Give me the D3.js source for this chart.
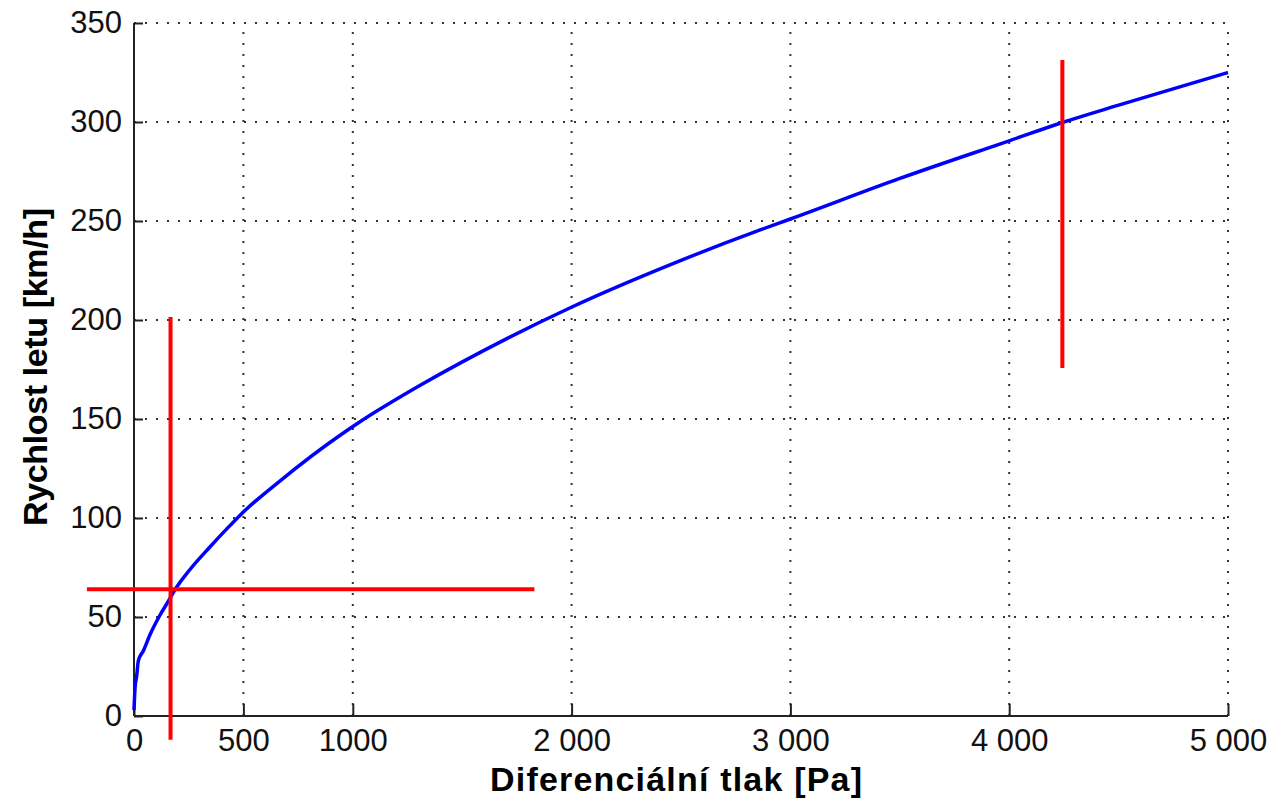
<!DOCTYPE html>
<html>
<head>
<meta charset="utf-8">
<script src="https://cdn.jsdelivr.net/npm/d3@7"></script>
<style>
  html, body { margin: 0; padding: 0; background: #fff; }
  svg { display: block; font-family: "Liberation Sans", Arial, sans-serif; }
  .tick-label { font-size: 31px; fill: #111; }
  .title { font-size: 34px; font-weight: bold; fill: #000; }
</style>
</head>
<body>
<div id="chart"></div>
<script>
const WIDTH = 1272
const HEIGHT = 802
const MARGIN = { top: 23, right: 44, bottom: 86, left: 134 }

// tick values and their printed labels
const X_TICKS = [0, 500, 1000, 2000, 3000, 4000, 5000]
const X_TICK_LABELS = ['0', '500', '1000', '2 000', '3 000', '4 000', '5 000']
const Y_TICKS = [0, 50, 100, 150, 200, 250, 300, 350]

// curve: [pressure Pa, speed km/h]
const PRESSURE = [0, 5, 12, 20, 43, 73, 119, 157, 180, 256, 348, 424, 492, 668, 942, 1033, 1308, 1704, 1994, 2466, 2862, 3000, 3500, 4000, 4250, 4500, 5000]
const SPEED = [3, 14.6, 20, 28, 33, 41, 51, 58, 62.5, 74, 85.5, 94.5, 102.2, 118.8, 141.8, 148.6, 167, 190.6, 206.2, 228.6, 245.5, 251, 271.5, 290.5, 300, 308.5, 325]

// red marker lines: [x1, y1, x2, y2] in data units
const MARKERS = [
  [167, -12, 167, 201.5],
  [-215, 64, 1830, 64],
  [4243, 175.7, 4243, 331.3]
]

const svg = d3.select('#chart')
  .append('svg')
    .attr('width', WIDTH)
    .attr('height', HEIGHT)

const x = d3.scaleLinear()
  .domain([0, 5000])
  .range([MARGIN.left, WIDTH - MARGIN.right])

const y = d3.scaleLinear()
  .domain([0, 350])
  .range([HEIGHT - MARGIN.bottom, MARGIN.top])

// dotted grid
const grid = svg.append('g')
  .attr('stroke', '#333')
  .attr('stroke-width', 2)
  .attr('stroke-dasharray', '2,9')

grid.selectAll('.vgrid')
    .data(X_TICKS.filter((d) => d > 0))
  .enter().append('line')
    .attr('x1', (d) => x(d)).attr('x2', (d) => x(d))
    .attr('y1', y(0)).attr('y2', y(350))

grid.selectAll('.hgrid')
    .data(Y_TICKS.filter((d) => d > 0))
  .enter().append('line')
    .attr('x1', x(0)).attr('x2', x(5000))
    .attr('y1', (d) => y(d)).attr('y2', (d) => y(d))

// axes (inward ticks, custom labels)
const xAxis = d3.axisBottom(x)
  .tickValues(X_TICKS)
  .tickSize(-12)
  .tickPadding(13)
  .tickFormat((d, i) => X_TICK_LABELS[i])

const yAxis = d3.axisLeft(y)
  .tickValues(Y_TICKS)
  .tickSize(-9)
  .tickPadding(12)

svg.append('g')
    .attr('transform', 'translate(0,' + y(0) + ')')
    .call(xAxis)
    .call((g) => g.select('.domain').attr('d', 'M' + x(0) + ',0H' + x(5000)))

svg.append('g')
    .attr('transform', 'translate(' + x(0) + ',0)')
    .call(yAxis)
    .call((g) => g.select('.domain').attr('d', 'M0,' + y(0) + 'V' + y(350)))

svg.selectAll('.domain, .tick line')
  .attr('stroke', '#222')
  .attr('stroke-width', 2)

svg.selectAll('.tick text')
  .attr('class', 'tick-label')
  .attr('font-size', null)
  .attr('font-family', null)

// blue curve
const line = d3.line()
  .curve(d3.curveMonotoneX)
  .x((d) => x(d[0]))
  .y((d) => y(d[1]))

svg.append('path')
  .datum(d3.zip(PRESSURE, SPEED))
  .attr('fill', 'none')
  .attr('stroke', '#0000ff')
  .attr('stroke-width', 3.5)
  .attr('stroke-linejoin', 'round')
  .attr('d', line)

// red markers
svg.append('g')
  .selectAll('line')
    .data(MARKERS)
  .enter().append('line')
    .attr('x1', (d) => x(d[0]))
    .attr('y1', (d) => y(d[1]))
    .attr('x2', (d) => x(d[2]))
    .attr('y2', (d) => y(d[3]))
    .attr('stroke', '#ff0000')
    .attr('stroke-width', 4)

// titles
svg.append('text')
  .attr('class', 'title')
  .attr('x', 676)
  .attr('y', 791)
  .attr('text-anchor', 'middle')
  .attr('textLength', 372)
  .attr('lengthAdjust', 'spacing')
  .text('Diferenciální tlak [Pa]')

svg.append('text')
  .attr('class', 'title')
  .attr('transform', 'translate(47,367) rotate(-90)')
  .attr('text-anchor', 'middle')
  .attr('textLength', 318)
  .attr('lengthAdjust', 'spacing')
  .text('Rychlost letu [km/h]')
</script>
</body>
</html>
